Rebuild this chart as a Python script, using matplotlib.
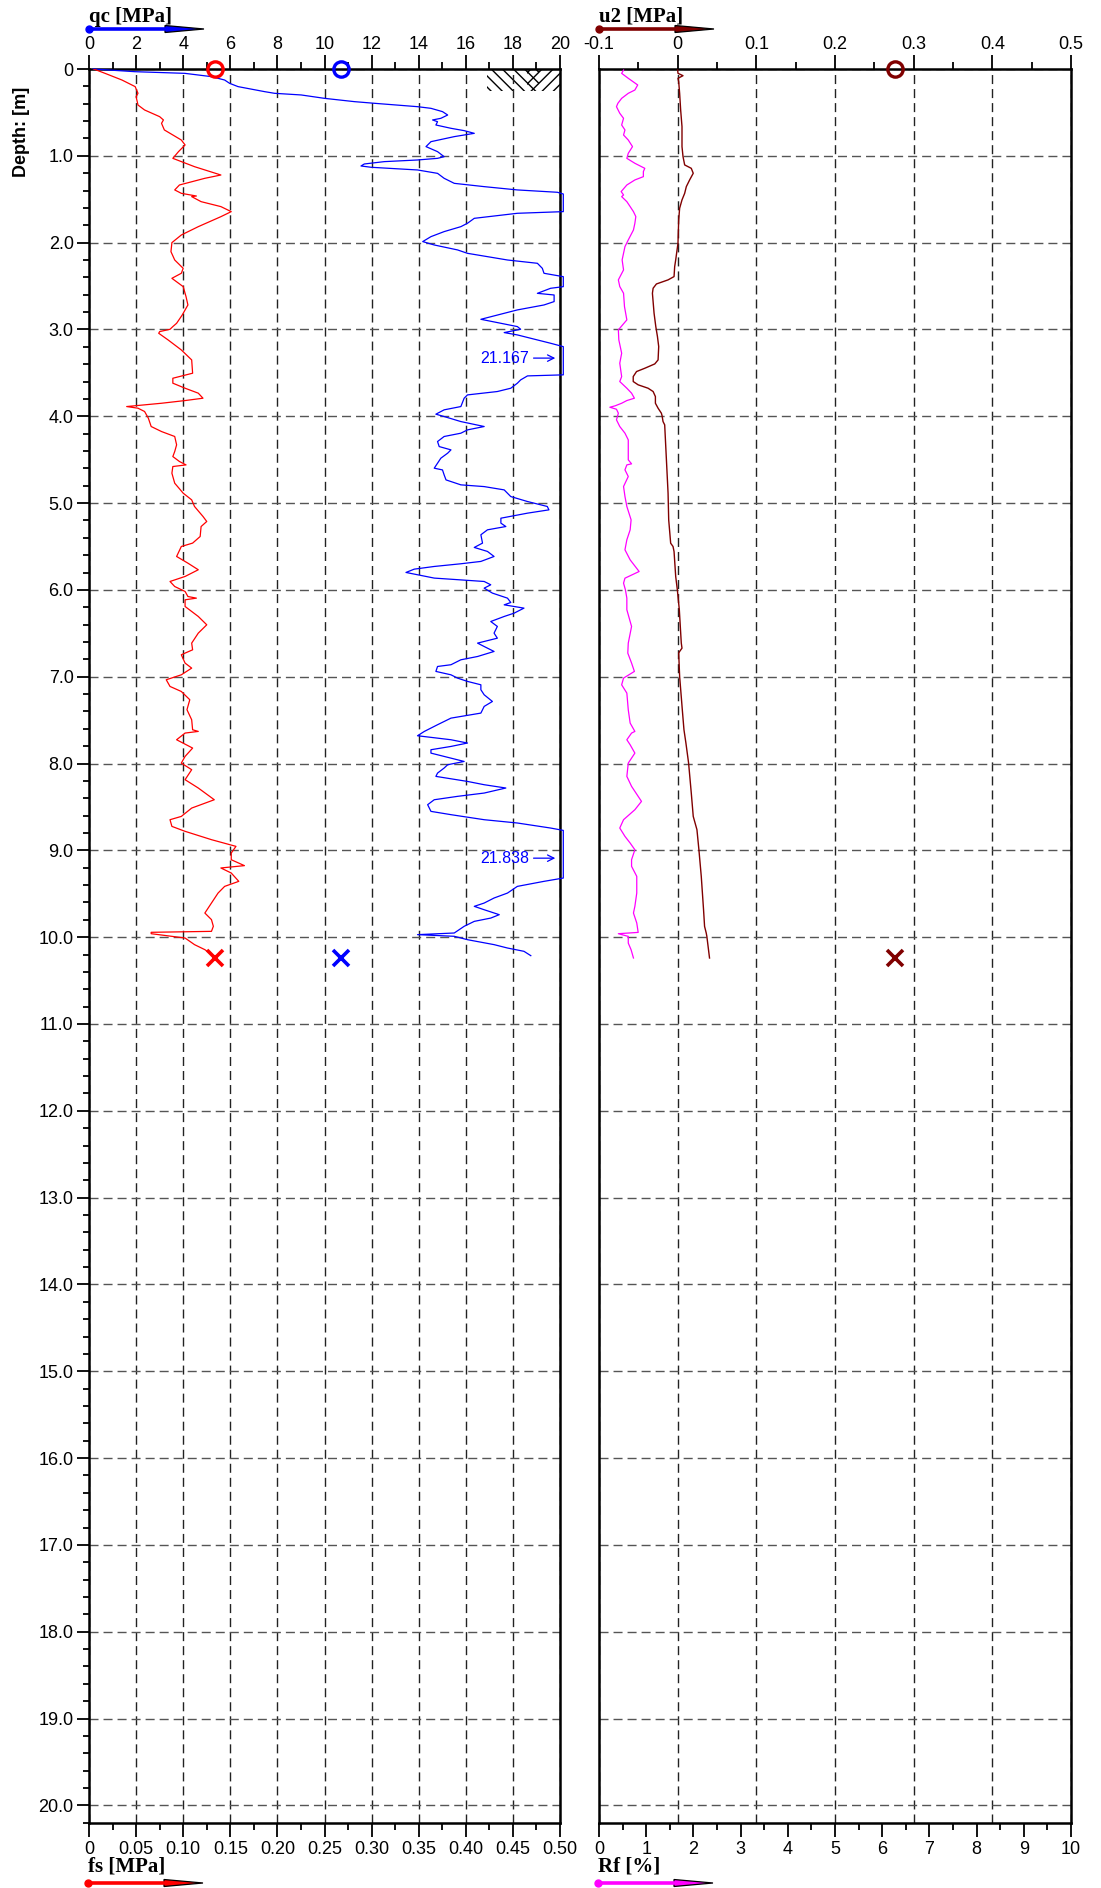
import numpy as np
import matplotlib
matplotlib.use("Agg")
import matplotlib.pyplot as plt
from matplotlib.lines import Line2D
from matplotlib.patches import Polygon, Rectangle
from matplotlib.ticker import MultipleLocator, FuncFormatter

# ----------------------------------------
# Data read off the CPT log
# ----------------------------------------
# cone resistance qc [MPa]; values above 20 are drawn at the chart edge
qc_depth = [0.000, 0.031, 0.050, 0.088, 0.127, 0.165, 0.203, 0.261, 0.280, 0.299,
            0.338, 0.376, 0.395, 0.434, 0.453, 0.491, 0.530, 0.568, 0.587, 0.607,
            0.645, 0.683, 0.710, 0.741, 0.779, 0.837, 0.894, 0.952, 1.010, 1.029,
            1.048, 1.067, 1.094, 1.117, 1.132, 1.163, 1.202, 1.259, 1.317, 1.355,
            1.393, 1.420, 1.440, 1.540, 1.643, 1.662, 1.720, 1.777, 1.816, 1.873,
            1.931, 1.988, 2.027, 2.084, 2.123, 2.200, 2.238, 2.296, 2.353, 2.392,
            2.450, 2.507, 2.526, 2.584, 2.603, 2.679, 2.718, 2.775, 2.814, 2.883,
            2.929, 2.967, 2.998, 3.013, 3.036, 3.063, 3.102, 3.159, 3.198, 3.330,
            3.523, 3.535, 3.581, 3.619, 3.677, 3.715, 3.754, 3.792, 3.888, 3.926,
            3.976, 4.003, 4.061, 4.118, 4.157, 4.195, 4.233, 4.291, 4.349, 4.387,
            4.425, 4.483, 4.540, 4.598, 4.618, 4.675, 4.733, 4.790, 4.810, 4.848,
            4.925, 4.982, 5.039, 5.078, 5.116, 5.174, 5.231, 5.270, 5.308, 5.365,
            5.461, 5.511, 5.557, 5.615, 5.672, 5.699, 5.730, 5.761, 5.799, 5.826,
            5.864, 5.903, 5.941, 5.980, 6.037, 6.095, 6.145, 6.172, 6.210, 6.268,
            6.306, 6.364, 6.421, 6.498, 6.556, 6.613, 6.652, 6.709, 6.767, 6.805,
            6.862, 6.882, 6.939, 6.978, 7.016, 7.054, 7.093, 7.150, 7.208, 7.285,
            7.342, 7.419, 7.477, 7.553, 7.630, 7.680, 7.707, 7.726, 7.764, 7.803,
            7.841, 7.880, 7.918, 7.976, 8.014, 8.052, 8.110, 8.148, 8.206, 8.244,
            8.282, 8.340, 8.378, 8.417, 8.474, 8.551, 8.589, 8.647, 8.685, 8.743,
            8.770, 9.090, 9.319, 9.357, 9.415, 9.492, 9.549, 9.607, 9.645, 9.684,
            9.741, 9.780, 9.818, 9.875, 9.952, 9.971, 9.990, 10.029, 10.086, 10.125,
            10.163, 10.213]
qc_vals = [0.18, 1.95, 4.07, 5.20, 5.76, 5.97, 6.33, 7.46, 7.88, 9.01,
           10.00, 11.27, 12.12, 13.95, 14.52, 15.01, 15.23, 14.94, 14.59, 14.80,
           14.73, 15.37, 15.93, 16.36, 15.51, 14.52, 14.31, 14.80, 15.08, 14.80,
           13.95, 12.54, 11.69, 11.55, 11.98, 13.95, 14.80, 15.08, 15.51, 16.78,
           18.19, 19.89, 20.20, 20.60, 20.20, 18.19, 16.36, 16.07, 15.79, 15.08,
           14.52, 14.17, 14.66, 15.65, 16.07, 17.77, 19.04, 19.25, 19.32, 20.20,
           20.50, 20.20, 19.60, 19.04, 19.75, 19.75, 19.32, 18.19, 17.63, 16.64,
           17.49, 18.19, 18.33, 18.05, 17.63, 18.19, 18.76, 19.60, 20.20, 21.167,
           20.20, 18.62, 18.33, 18.19, 17.91, 17.34, 16.07, 15.93, 15.79, 15.08,
           14.73, 15.08, 15.79, 16.78, 16.07, 15.79, 15.08, 14.80, 14.87, 15.37,
           15.23, 14.94, 14.80, 14.66, 15.01, 15.08, 15.16, 15.79, 16.78, 17.63,
           17.91, 18.62, 19.46, 19.53, 18.62, 17.49, 17.49, 17.70, 16.92, 16.64,
           16.71, 16.36, 16.92, 17.20, 16.64, 15.79, 14.66, 13.81, 13.46, 13.95,
           14.66, 16.78, 17.06, 16.78, 17.13, 17.77, 17.91, 17.63, 18.47, 18.05,
           17.63, 17.06, 17.34, 17.20, 17.34, 16.50, 16.78, 17.20, 16.50, 15.79,
           15.37, 14.80, 14.73, 15.37, 15.65, 16.07, 16.64, 16.64, 16.78, 17.13,
           16.78, 16.64, 15.37, 14.80, 14.24, 13.95, 14.80, 15.37, 16.07, 15.37,
           14.52, 14.52, 15.08, 15.93, 15.23, 15.08, 14.80, 14.73, 16.07, 16.78,
           17.70, 16.78, 15.65, 14.66, 14.38, 14.52, 15.37, 16.78, 18.19, 19.60,
           20.20, 21.838, 20.20, 19.32, 18.19, 17.77, 17.20, 16.78, 16.36, 16.78,
           17.42, 17.06, 16.36, 15.93, 15.51, 13.95, 15.51, 16.07, 17.20, 17.77,
           18.47, 18.76]

# sleeve friction fs [MPa]
fs_depth = [0.000, 0.050, 0.127, 0.203, 0.280, 0.319, 0.415, 0.472, 0.549, 0.587,
            0.626, 0.702, 0.760, 0.818, 0.875, 0.952, 1.029, 1.125, 1.221, 1.259,
            1.336, 1.393, 1.432, 1.463, 1.470, 1.528, 1.585, 1.643, 1.701, 1.739,
            1.816, 1.912, 2.000, 2.104, 2.200, 2.296, 2.353, 2.411, 2.507, 2.622,
            2.718, 2.833, 2.929, 2.967, 2.998, 3.025, 3.044, 3.121, 3.236, 3.351,
            3.504, 3.562, 3.619, 3.677, 3.734, 3.792, 3.819, 3.850, 3.888, 3.907,
            3.945, 4.022, 4.118, 4.176, 4.233, 4.329, 4.406, 4.464, 4.521, 4.560,
            4.579, 4.656, 4.771, 4.886, 4.963, 5.039, 5.154, 5.212, 5.270, 5.385,
            5.461, 5.500, 5.615, 5.692, 5.768, 5.845, 5.903, 5.961, 6.018, 6.076,
            6.095, 6.114, 6.191, 6.306, 6.402, 6.498, 6.613, 6.690, 6.747, 6.843,
            6.901, 6.978, 7.035, 7.112, 7.170, 7.265, 7.380, 7.496, 7.611, 7.630,
            7.649, 7.726, 7.822, 7.918, 7.995, 8.071, 8.186, 8.282, 8.417, 8.513,
            8.609, 8.647, 8.724, 8.781, 8.877, 8.954, 9.031, 9.108, 9.176, 9.203,
            9.261, 9.357, 9.415, 9.492, 9.607, 9.722, 9.798, 9.875, 9.933, 9.944,
            9.960, 10.010, 10.086, 10.144, 10.182]
fs_vals = [0.005, 0.017, 0.035, 0.049, 0.052, 0.050, 0.052, 0.059, 0.075, 0.079,
           0.077, 0.080, 0.089, 0.098, 0.102, 0.095, 0.089, 0.112, 0.140, 0.123,
           0.096, 0.091, 0.098, 0.114, 0.109, 0.119, 0.140, 0.151, 0.140, 0.132,
           0.116, 0.098, 0.088, 0.087, 0.091, 0.100, 0.098, 0.088, 0.100, 0.103,
           0.105, 0.099, 0.093, 0.089, 0.086, 0.075, 0.074, 0.084, 0.098, 0.109,
           0.110, 0.089, 0.089, 0.102, 0.116, 0.121, 0.102, 0.077, 0.040, 0.052,
           0.059, 0.063, 0.066, 0.077, 0.091, 0.093, 0.091, 0.089, 0.096, 0.103,
           0.089, 0.088, 0.091, 0.100, 0.109, 0.112, 0.121, 0.125, 0.119, 0.118,
           0.110, 0.098, 0.093, 0.105, 0.116, 0.102, 0.086, 0.091, 0.102, 0.105,
           0.114, 0.102, 0.102, 0.116, 0.125, 0.116, 0.109, 0.110, 0.098, 0.102,
           0.109, 0.098, 0.082, 0.086, 0.098, 0.107, 0.104, 0.109, 0.110, 0.116,
           0.102, 0.093, 0.110, 0.102, 0.098, 0.109, 0.102, 0.116, 0.133, 0.109,
           0.098, 0.086, 0.088, 0.102, 0.130, 0.156, 0.151, 0.151, 0.165, 0.140,
           0.151, 0.159, 0.144, 0.137, 0.130, 0.123, 0.130, 0.132, 0.130, 0.066,
           0.066, 0.102, 0.112, 0.123, 0.128]

# pore pressure u2 [MPa]
u2_depth = [0.012, 0.050, 0.077, 0.107, 0.146, 0.280, 0.472, 0.664, 0.894, 1.009,
            1.105, 1.144, 1.201, 1.278, 1.355, 1.432, 1.508, 1.604, 1.739, 2.007,
            2.199, 2.276, 2.391, 2.429, 2.476, 2.525, 2.583, 2.813, 2.967, 3.082,
            3.197, 3.351, 3.397, 3.447, 3.485, 3.543, 3.600, 3.638, 3.677, 3.715,
            3.773, 3.850, 3.907, 3.965, 3.995, 4.061, 4.099, 4.502, 4.886, 5.193,
            5.462, 5.500, 5.558, 5.845, 6.000, 6.229, 6.613, 6.671, 6.709, 6.728,
            6.997, 7.381, 7.611, 7.765, 7.995, 8.340, 8.609, 8.762, 8.993, 9.300,
            9.684, 9.876, 9.952, 9.991, 10.240]
u2_vals = [0.0000, 0.0004, 0.0068, 0.0004, 0.0013, 0.0025, 0.0038, 0.0055, 0.0055, 0.0068,
           0.0089, 0.0173, 0.0198, 0.0152, 0.0110, 0.0089, 0.0055, 0.0025, 0.0013, 0.0004,
           -0.0025, -0.0038, -0.0046, -0.0122, -0.0270, -0.0312, -0.0321, -0.0300, -0.0278, -0.0257,
           -0.0241, -0.0249, -0.0291, -0.0418, -0.0523, -0.0565, -0.0565, -0.0502, -0.0376, -0.0312,
           -0.0283, -0.0283, -0.0249, -0.0207, -0.0198, -0.0186, -0.0165, -0.0143, -0.0122, -0.0114,
           -0.0089, -0.0059, -0.0046, -0.0025, -0.0004, 0.0021, 0.0046, 0.0055, 0.0025, 0.0013,
           0.0025, 0.0059, 0.0080, 0.0105, 0.0139, 0.0173, 0.0198, 0.0245, 0.0270, 0.0300,
           0.0329, 0.0342, 0.0363, 0.0371, 0.0405]

# friction ratio Rf [%]
rf_depth = [0.012, 0.050, 0.107, 0.184, 0.242, 0.280, 0.338, 0.395, 0.434, 0.510,
            0.568, 0.645, 0.702, 0.760, 0.818, 0.894, 0.971, 1.029, 1.086, 1.144,
            1.182, 1.240, 1.278, 1.336, 1.412, 1.451, 1.470, 1.528, 1.585, 1.643,
            1.700, 1.777, 1.854, 1.969, 2.046, 2.199, 2.314, 2.429, 2.506, 2.583,
            2.737, 2.890, 3.005, 3.120, 3.274, 3.389, 3.543, 3.600, 3.677, 3.734,
            3.792, 3.819, 3.850, 3.880, 3.896, 3.919, 3.965, 4.041, 4.118, 4.195,
            4.272, 4.387, 4.502, 4.548, 4.560, 4.617, 4.694, 4.809, 4.924, 5.039,
            5.193, 5.308, 5.423, 5.538, 5.654, 5.788, 5.865, 5.922, 6.000, 6.095,
            6.229, 6.421, 6.613, 6.728, 6.843, 6.939, 7.016, 7.093, 7.189, 7.381,
            7.534, 7.630, 7.649, 7.726, 7.784, 7.880, 7.995, 8.148, 8.263, 8.436,
            8.532, 8.647, 8.743, 8.839, 8.916, 8.993, 9.108, 9.184, 9.300, 9.492,
            9.645, 9.722, 9.837, 9.945, 9.960, 9.991, 10.068, 10.145, 10.240]
rf_vals = [0.52, 0.48, 0.62, 0.82, 0.76, 0.62, 0.48, 0.40, 0.37, 0.44,
           0.52, 0.48, 0.55, 0.52, 0.62, 0.71, 0.62, 0.59, 0.76, 0.97,
           0.94, 0.94, 0.76, 0.59, 0.47, 0.52, 0.48, 0.59, 0.66, 0.73,
           0.78, 0.76, 0.73, 0.62, 0.55, 0.49, 0.52, 0.41, 0.44, 0.52,
           0.54, 0.59, 0.41, 0.42, 0.48, 0.44, 0.48, 0.44, 0.59, 0.69,
           0.75, 0.59, 0.48, 0.34, 0.23, 0.37, 0.41, 0.37, 0.44, 0.55,
           0.62, 0.62, 0.62, 0.69, 0.59, 0.55, 0.62, 0.52, 0.55, 0.59,
           0.68, 0.66, 0.59, 0.55, 0.66, 0.85, 0.55, 0.52, 0.56, 0.59,
           0.59, 0.69, 0.62, 0.61, 0.69, 0.75, 0.52, 0.48, 0.59, 0.62,
           0.66, 0.76, 0.69, 0.59, 0.66, 0.76, 0.62, 0.59, 0.69, 0.90,
           0.76, 0.52, 0.44, 0.55, 0.66, 0.76, 0.69, 0.69, 0.80, 0.80,
           0.76, 0.73, 0.80, 0.83, 0.41, 0.62, 0.62, 0.68, 0.73]

# over-range labels and start/end markers
over_labels = ["21.167", "21.838"]
over_depths = [3.33, 9.09]
start_depth = 0.0
end_depth = 10.24
fs_marker = 0.1335
qc_marker = 10.70
u2_marker = 0.276

# axis ticks
qc_ticks = np.arange(0, 21, 2)
fs_ticks = np.arange(0, 0.501, 0.05)
u2_ticks = np.arange(-0.1, 0.501, 0.1)
rf_ticks = np.arange(0, 11, 1)
depth_ticks = np.arange(0, 21, 1)

W, H = 1101, 1888
BLUE = "#0000ff"
RED = "#ff0000"
DARKRED = "#800000"
MAGENTA = "#ff00ff"
TICKFONT = "Liberation Sans"
TITLEFONT = "Liberation Serif"
TICK_SIZE = 13

plt.rcParams["font.family"] = [TICKFONT, "DejaVu Sans"]

fig = plt.figure(figsize=(W / 100, H / 100), dpi=100)

bottom = 65.3 / H
height = (1822.7 - 69) / H
ax = fig.add_axes([89 / W, bottom, 471 / W, height])
axr = fig.add_axes([599 / W, bottom, 472 / W, height])
# twins first: twiny() moves the parent's x ticks to the bottom
axf = ax.twiny()
axrf = axr.twiny()

grid_dash = (0, (6.5, 3.6))


def style_main(a, xlim, ticks, fmt, minor):
    a.set_xlim(*xlim)
    a.set_ylim(20.2, 0)
    a.xaxis.tick_top()
    a.xaxis.set_label_position("top")
    a.set_xticks(ticks)
    a.xaxis.set_major_formatter(FuncFormatter(fmt))
    a.xaxis.set_minor_locator(MultipleLocator(minor))
    a.tick_params(axis="x", which="major", direction="out", length=10, width=1.3,
                  labelsize=TICK_SIZE, pad=1.5)
    a.tick_params(axis="x", which="minor", direction="out", length=5, width=1.3)
    a.set_yticks(depth_ticks)
    a.grid(axis="x", which="major", linestyle=grid_dash, color="#222222", lw=1.0)
    a.grid(axis="y", which="major", linestyle=grid_dash, color="#555555", lw=1.0)
    for s in a.spines.values():
        s.set_linewidth(1.8)


def style_twin(a, xlim, ticks, fmt, minor):
    a.set_xlim(*xlim)
    a.xaxis.tick_bottom()
    a.xaxis.set_label_position("bottom")
    a.set_xticks(ticks)
    a.xaxis.set_major_formatter(FuncFormatter(fmt))
    a.xaxis.set_minor_locator(MultipleLocator(minor))
    a.tick_params(axis="x", which="major", direction="out", length=10, width=1.3,
                  labelsize=TICK_SIZE, pad=3)
    a.tick_params(axis="x", which="minor", direction="out", length=5, width=1.3)
    for s in a.spines.values():
        s.set_visible(False)


# ---- left panel: qc (top) / fs (bottom)
style_main(ax, (0, 20), qc_ticks, lambda v, p: f"{v:g}", 1)
ax.yaxis.set_major_formatter(FuncFormatter(lambda v, p: "0" if v == 0 else f"{v:.1f}"))
ax.yaxis.set_minor_locator(MultipleLocator(0.2))
ax.tick_params(axis="y", which="major", direction="out", length=9, width=1.3,
               labelsize=TICK_SIZE, pad=2)
ax.tick_params(axis="y", which="minor", direction="out", length=4, width=1.3)

style_twin(axf, (0, 0.5), fs_ticks, lambda v, p: "0" if abs(v) < 1e-9 else f"{v:.2f}", 0.025)

# soil symbol at the top right
ax.add_patch(Rectangle((16.9, 0.0), 2.2, 0.25, fill=False, hatch="\\\\\\",
                       edgecolor="black", lw=0))
ax.add_patch(Rectangle((18.6, 0.0), 1.4, 0.25, fill=False, hatch="///",
                       edgecolor="black", lw=0))

qc_arr = np.array(qc_vals)
ax.plot(np.minimum(qc_arr, 20.14), qc_depth, color=BLUE, lw=0.9, clip_on=False, zorder=3)
axf.plot(fs_vals, fs_depth, color=RED, lw=0.9, zorder=3)

for lab, d in zip(over_labels, over_depths):
    ax.annotate(lab, xy=(19.8, d), xytext=(18.7, d), color=BLUE, fontsize=11.5,
                ha="right", va="center",
                arrowprops=dict(arrowstyle="->", color=BLUE, lw=0.9,
                                shrinkA=1, shrinkB=0))

axf.plot([fs_marker], [start_depth], "o", mfc="none", mec=RED, ms=11, mew=2.4,
         clip_on=False, zorder=5)
axf.plot([fs_marker], [end_depth], "x", color=RED, ms=12, mew=2.6, zorder=5)
ax.plot([qc_marker], [start_depth], "o", mfc="none", mec=BLUE, ms=11, mew=2.4,
        clip_on=False, zorder=5)
ax.plot([qc_marker], [end_depth], "x", color=BLUE, ms=12, mew=2.6, zorder=5)

# ---- right panel: u2 (top) / Rf (bottom)
style_main(axr, (-0.1, 0.5), u2_ticks, lambda v, p: "0" if abs(v) < 1e-9 else f"{v:.1f}", 0.05)
axr.tick_params(axis="y", which="both", left=False, labelleft=False)

style_twin(axrf, (0, 10), rf_ticks, lambda v, p: f"{v:g}", 0.5)

axr.plot(u2_vals, u2_depth, color=DARKRED, lw=1.0, zorder=3)
axrf.plot(rf_vals, rf_depth, color=MAGENTA, lw=0.9, zorder=3)
axr.plot([u2_marker], [start_depth], "o", mfc="none", mec=DARKRED, ms=11, mew=2.4,
         clip_on=False, zorder=5)
axr.plot([u2_marker], [end_depth], "x", color=DARKRED, ms=12, mew=2.6, zorder=5)


# ---- header / footer labels with their arrows
def fx(x):
    return x / W


def fy(y):
    return 1 - y / H


def header_arrow(x0, y, color):
    line = Line2D([fx(x0), fx(x0 + 77)], [fy(y), fy(y)], transform=fig.transFigure,
                  color=color, lw=2.6, solid_capstyle="butt")
    fig.add_artist(line)
    cap = Line2D([fx(x0)], [fy(y)], transform=fig.transFigure, marker="o", ms=5,
                 color=color, mec=color)
    fig.add_artist(cap)
    head = Polygon([(fx(x0 + 76), fy(y - 3.5)), (fx(x0 + 115), fy(y)),
                    (fx(x0 + 76), fy(y + 3.5))], closed=True,
                   transform=fig.transFigure, facecolor=color, edgecolor="black", lw=0.9)
    fig.add_artist(head)


TITLE_SIZE = 15
fig.text(fx(89), fy(22), "qc [MPa]", fontsize=TITLE_SIZE, fontweight="bold",
         family=TITLEFONT, ha="left", va="baseline")
header_arrow(89, 29, BLUE)
fig.text(fx(599), fy(22), "u2 [MPa]", fontsize=TITLE_SIZE, fontweight="bold",
         family=TITLEFONT, ha="left", va="baseline")
header_arrow(599, 29, DARKRED)
fig.text(fx(88), fy(1872), "fs [MPa]", fontsize=TITLE_SIZE, fontweight="bold",
         family=TITLEFONT, ha="left", va="baseline")
header_arrow(88, 1883, RED)
fig.text(fx(598), fy(1872), "Rf [%]", fontsize=TITLE_SIZE, fontweight="bold",
         family=TITLEFONT, ha="left", va="baseline")
header_arrow(598, 1883, MAGENTA)

fig.text(fx(22), fy(132), "Depth: [m]", fontsize=13, fontweight="bold",
         rotation=90, ha="center", va="center")

fig.savefig("out.png", dpi=100)
